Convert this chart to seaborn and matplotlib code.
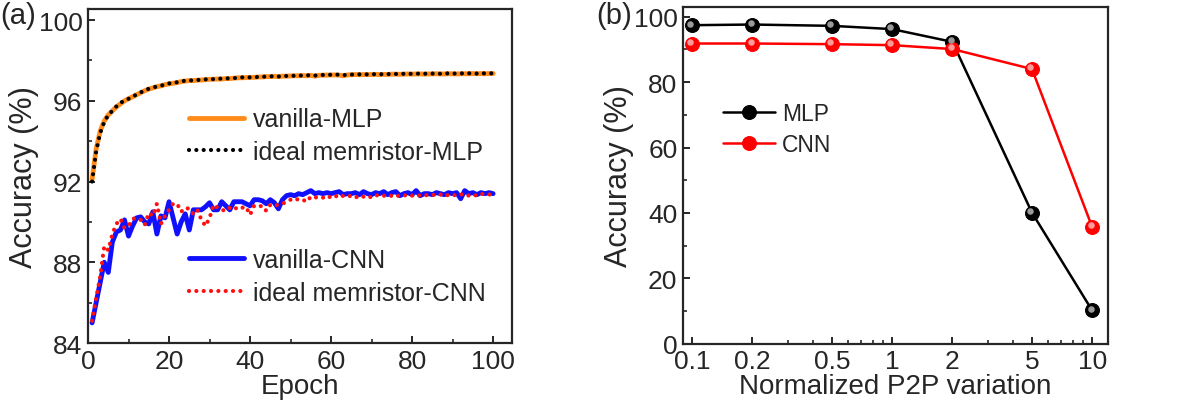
import numpy as np
import pandas as pd
import matplotlib
matplotlib.use('Agg')
import matplotlib.pyplot as plt
import matplotlib.transforms as mtransforms
from matplotlib.ticker import MultipleLocator, FixedLocator, NullFormatter
from matplotlib.lines import Line2D
import seaborn as sns

# ---- data: panel (a), accuracy per epoch ----
epochs = list(range(1, 101))

vanilla_mlp = [92.1, 93.6, 94.5, 95.0, 95.3, 95.5, 95.7, 95.85, 96.0, 96.1,
               96.2, 96.3, 96.4, 96.5, 96.58, 96.64, 96.7, 96.74, 96.8, 96.84,
               96.87, 96.9, 96.95, 96.98, 97.0, 97.0, 97.02, 97.03, 97.05, 97.06,
               97.07, 97.08, 97.08, 97.1, 97.1, 97.12, 97.14, 97.14, 97.15, 97.16,
               97.16, 97.18, 97.18, 97.2, 97.2, 97.21, 97.2, 97.22, 97.22, 97.23,
               97.24, 97.24, 97.25, 97.24, 97.26, 97.22, 97.26, 97.27, 97.27, 97.28,
               97.28, 97.27, 97.24, 97.28, 97.29, 97.3, 97.29, 97.3, 97.3, 97.3,
               97.31, 97.3, 97.31, 97.3, 97.32, 97.32, 97.31, 97.32, 97.33, 97.32,
               97.33, 97.33, 97.32, 97.33, 97.33, 97.34, 97.33, 97.33, 97.34, 97.34,
               97.33, 97.34, 97.34, 97.34, 97.35, 97.34, 97.35, 97.34, 97.35, 97.35]

ideal_mlp = [92.0, 93.5, 94.4, 94.95, 95.3, 95.5, 95.72, 95.9, 96.0, 96.1,
             96.22, 96.3, 96.42, 96.5, 96.6, 96.64, 96.72, 96.75, 96.8, 96.86,
             96.88, 96.92, 96.95, 97.0, 97.0, 97.02, 97.03, 97.04, 97.06, 97.08,
             97.07, 97.09, 97.1, 97.1, 97.12, 97.12, 97.14, 97.16, 97.15, 97.16,
             97.17, 97.18, 97.19, 97.2, 97.21, 97.22, 97.2, 97.22, 97.23, 97.24,
             97.24, 97.25, 97.25, 97.26, 97.27, 97.25, 97.26, 97.28, 97.28, 97.29,
             97.29, 97.3, 97.27, 97.29, 97.3, 97.3, 97.31, 97.3, 97.31, 97.31,
             97.32, 97.31, 97.32, 97.32, 97.33, 97.33, 97.32, 97.34, 97.33, 97.34,
             97.34, 97.35, 97.34, 97.35, 97.35, 97.35, 97.34, 97.35, 97.36, 97.35,
             97.35, 97.36, 97.35, 97.36, 97.36, 97.35, 97.36, 97.36, 97.36, 97.36]

vanilla_cnn = [85.0, 86.0, 87.0, 88.0, 87.5, 89.0, 89.5, 89.6, 90.1, 89.3,
               89.8, 90.2, 90.25, 90.0, 89.9, 90.5, 89.4, 90.3, 90.2, 91.0,
               90.2, 89.4, 90.0, 90.4, 89.6, 90.6, 90.6, 90.6, 90.75, 90.95,
               90.6, 90.6, 91.0, 90.8, 90.6, 91.0, 91.0, 91.0, 90.9, 90.8,
               91.1, 91.1, 91.05, 90.9, 91.1, 90.95, 90.65, 91.1, 91.3, 91.35,
               91.3, 91.4, 91.35, 91.45, 91.55, 91.4, 91.45, 91.4, 91.45, 91.4,
               91.45, 91.5, 91.35, 91.4, 91.4, 91.45, 91.35, 91.5, 91.4, 91.35,
               91.45, 91.4, 91.5, 91.35, 91.45, 91.5, 91.3, 91.4, 91.45, 91.35,
               91.55, 91.3, 91.4, 91.4, 91.35, 91.45, 91.4, 91.35, 91.45, 91.4,
               91.45, 91.15, 91.55, 91.4, 91.45, 91.35, 91.45, 91.4, 91.45, 91.4]

ideal_cnn = [85.1, 86.2, 87.3, 88.8, 88.6, 89.4, 89.9, 90.15, 89.7, 89.8,
             90.15, 90.2, 90.1, 89.85, 90.45, 90.3, 90.9, 89.9, 90.3, 90.6,
             90.9, 90.9, 90.5, 90.7, 90.65, 90.4, 90.6, 90.1, 89.8, 90.2,
             90.85, 90.7, 90.6, 90.55, 90.7, 90.6, 90.75, 90.7, 90.75, 90.35,
             90.8, 90.75, 90.8, 90.55, 90.85, 90.8, 90.85, 90.9, 91.0, 91.1,
             91.05, 91.15, 91.1, 91.0, 91.25, 91.2, 91.25, 91.2, 91.3, 91.2,
             91.3, 91.2, 91.3, 91.25, 91.3, 91.2, 91.3, 91.25, 91.3, 91.2,
             91.3, 91.35, 91.3, 91.25, 91.3, 91.35, 91.25, 91.3, 91.35, 91.3,
             91.35, 91.3, 91.35, 91.3, 91.35, 91.3, 91.35, 91.4, 91.3, 91.35,
             91.3, 91.35, 91.4, 91.3, 91.35, 91.3, 91.4, 91.35, 91.35, 91.4]

# ---- data: panel (b), accuracy vs P2P variation ----
p2p = [0.1, 0.2, 0.5, 1, 2, 5, 10]
mlp_acc = [97.4, 97.6, 97.2, 96.2, 92.3, 40.1, 10.2]
cnn_acc = [91.8, 91.8, 91.6, 91.3, 90.1, 84.0, 35.7]
p2p_ticks = [0.1, 0.2, 0.5, 1, 2, 5, 10]
p2p_labels = ['0.1', '0.2', '0.5', '1', '2', '5', '10']

sns.set_style('ticks')
plt.rcParams['font.family'] = ['Liberation Sans', 'DejaVu Sans']
plt.rcParams['axes.linewidth'] = 1.6
plt.rcParams['xtick.direction'] = 'in'
plt.rcParams['ytick.direction'] = 'in'

fig = plt.figure(figsize=(11.8, 4.14), dpi=100)
ax1 = fig.add_axes([0.0746, 0.169, 0.3594, 0.807])
ax2 = fig.add_axes([0.5788, 0.167, 0.3602, 0.814])

dot = (0, (0.01, 1.75))

# panel (a)
sns.lineplot(x=epochs, y=vanilla_mlp, ax=ax1, color='#ff8c1a', linewidth=3.5)
sns.lineplot(x=epochs, y=ideal_mlp, ax=ax1, color='black', linewidth=3.0,
             linestyle=dot, dash_capstyle='round')
sns.lineplot(x=epochs, y=vanilla_cnn, ax=ax1, color='#1010ff', linewidth=3.5)
sns.lineplot(x=epochs, y=ideal_cnn, ax=ax1, color='#ff1010', linewidth=3.0,
             linestyle=dot, dash_capstyle='round')

ax1.set_xlim(0, 104.7)
ax1.set_ylim(84, 100.55)
ax1.xaxis.set_major_locator(MultipleLocator(20))
ax1.xaxis.set_minor_locator(MultipleLocator(10))
ax1.yaxis.set_major_locator(MultipleLocator(4))
ax1.yaxis.set_minor_locator(MultipleLocator(2))
ax1.set_xlabel('Epoch', fontsize=20, labelpad=0)
ax1.set_ylabel('Accuracy (%)', fontsize=22, labelpad=0)

h_mlp = [Line2D([], [], color='#ff8c1a', lw=3.5),
         Line2D([], [], color='black', lw=3.0, linestyle=dot, dash_capstyle='round')]
leg1 = ax1.legend(h_mlp, ['vanilla-MLP', 'ideal memristor-MLP'], loc='upper left',
                  bbox_to_anchor=(0.215, 0.735), frameon=False, fontsize=18,
                  handlelength=2.2, handletextpad=0.35, labelspacing=0.35, borderaxespad=0)
ax1.add_artist(leg1)
h_cnn = [Line2D([], [], color='#1010ff', lw=3.5),
         Line2D([], [], color='#ff1010', lw=3.0, linestyle=dot, dash_capstyle='round')]
ax1.legend(h_cnn, ['vanilla-CNN', 'ideal memristor-CNN'], loc='upper left',
           bbox_to_anchor=(0.215, 0.315), frameon=False, fontsize=18,
           handlelength=2.2, handletextpad=0.35, labelspacing=0.35, borderaxespad=0)

# panel (b)
df_b = pd.DataFrame({'p2p': p2p * 2, 'acc': mlp_acc + cnn_acc,
                     'model': ['MLP'] * len(p2p) + ['CNN'] * len(p2p)})
sns.lineplot(data=df_b, x='p2p', y='acc', hue='model', palette={'MLP': 'black', 'CNN': '#ff0000'},
             marker='o', markersize=10, markeredgecolor=None, linewidth=1.8, ax=ax2)
# glossy highlight on markers
hl = mtransforms.offset_copy(ax2.transData, fig=fig, x=-1.2, y=1.2, units='points')
ax2.scatter(p2p, mlp_acc, s=22, color='#9a9a9a', linewidths=0, transform=hl, zorder=5)
ax2.scatter(p2p, cnn_acc, s=22, color='#ff9a9a', linewidths=0, transform=hl, zorder=5)

ax2.set_xscale('log')
ax2.set_xlim(0.09, 12)
ax2.set_ylim(0, 103)
ax2.xaxis.set_major_locator(FixedLocator(p2p_ticks))
ax2.set_xticklabels(p2p_labels)
ax2.xaxis.set_minor_formatter(NullFormatter())
ax2.yaxis.set_major_locator(MultipleLocator(20))
ax2.yaxis.set_minor_locator(MultipleLocator(10))
ax2.set_xlabel('Normalized P2P variation', fontsize=20, labelpad=0)
ax2.set_ylabel('Accuracy (%)', fontsize=22, labelpad=0)
ax2.legend(loc='upper left', bbox_to_anchor=(0.072, 0.745), frameon=False, fontsize=16.5,
           handlelength=2.3, handletextpad=0.3, labelspacing=0.35, borderaxespad=0, title=None)

for ax in (ax1, ax2):
    ax.tick_params(which='major', length=5, width=1.4, labelsize=19, pad=4)
    ax.tick_params(which='minor', length=3, width=1.2)
    for s in ax.spines.values():
        s.set_visible(True)
        s.set_linewidth(1.6)

fig.text(0.0, 0.995, '(a)', fontsize=21, ha='left', va='top')
fig.text(0.505, 0.995, '(b)', fontsize=21, ha='left', va='top')

fig.savefig('out.png', dpi=100)
